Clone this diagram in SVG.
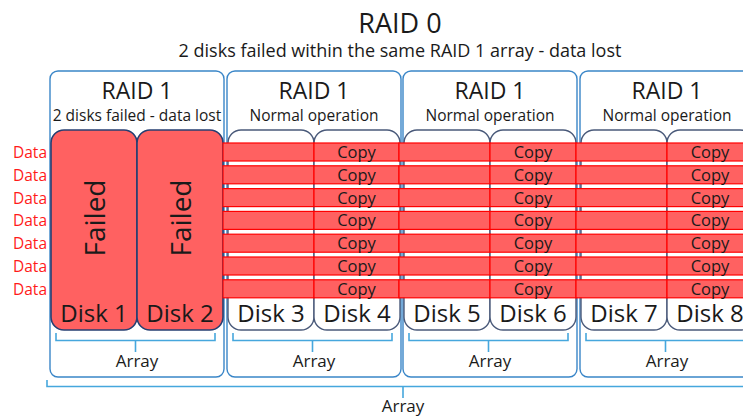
<svg xmlns="http://www.w3.org/2000/svg" width="743" height="417" viewBox="0 0 743 417">
<style>
text{font-family:"Open Sans","Noto Sans","DejaVu Sans",sans-serif;fill:#1a1a1a}
.title{font-size:27px;text-anchor:middle}
.sub{font-size:18px;text-anchor:middle}
.h1{font-size:23px;text-anchor:middle}
.h2{font-size:15.5px;text-anchor:middle}
.disk{font-size:24px;text-anchor:middle}
.copy{font-size:16.5px;text-anchor:middle}
.data{font-size:15.5px;text-anchor:end;fill:#ff1a1a}
.arr{font-size:17px;text-anchor:middle}
.failed{font-size:28px;text-anchor:middle}
.cont{fill:#fff;stroke:#3a86c8;stroke-width:1.4}
.dk{fill:#fff;stroke:#4a5a7a;stroke-width:1.4}
.df{fill:#ff6161;stroke:#263f72;stroke-width:1.6}
.bar{fill:#ff6161;stroke:#ff0000;stroke-width:1.2}
.br{fill:none;stroke:#46a7dd;stroke-width:1.6}
</style>
<text class="title" x="400" y="33">RAID 0</text>
<text class="sub" x="400" y="57">2 disks failed within the same RAID 1 array - data lost</text>

<g id="raid1-a">
<rect class="cont" x="50" y="71" width="174" height="306" rx="8"/>
<text class="h1" x="137" y="99">RAID 1</text>
<text class="h2" x="137" y="121">2 disks failed - data lost</text>
</g>
<g id="raid1-b">
<rect class="cont" x="227" y="71" width="174" height="306" rx="8"/>
<text class="h1" x="314" y="99">RAID 1</text>
<text class="h2" x="314" y="121">Normal operation</text>
</g>
<g id="raid1-c">
<rect class="cont" x="403" y="71" width="174" height="306" rx="8"/>
<text class="h1" x="490" y="99">RAID 1</text>
<text class="h2" x="490" y="121">Normal operation</text>
</g>
<g id="raid1-d">
<rect class="cont" x="580" y="71" width="174" height="306" rx="8"/>
<text class="h1" x="667" y="99">RAID 1</text>
<text class="h2" x="667" y="121">Normal operation</text>
</g>

<g id="disk1"><rect class="df" x="51" y="130" width="86" height="200" rx="13"/></g>
<g id="disk2"><rect class="df" x="137" y="130" width="86" height="200" rx="13"/></g>
<g id="disk3"><rect class="dk" x="228" y="130" width="86" height="200" rx="13"/></g>
<g id="disk4"><rect class="dk" x="314" y="130" width="86" height="200" rx="13"/></g>
<g id="disk5"><rect class="dk" x="404" y="130" width="86" height="200" rx="13"/></g>
<g id="disk6"><rect class="dk" x="490" y="130" width="86" height="200" rx="13"/></g>
<g id="disk7"><rect class="dk" x="581" y="130" width="86" height="200" rx="13"/></g>
<g id="disk8"><rect class="dk" x="667" y="130" width="86" height="200" rx="13"/></g>

<g id="bars">
<defs>
<g id="row">
<rect class="bar" x="223" y="0" width="91" height="18"/>
<rect class="bar" x="314" y="0" width="85" height="18"/>
<rect class="bar" x="399" y="0" width="91" height="18"/>
<rect class="bar" x="490" y="0" width="86" height="18"/>
<rect class="bar" x="576" y="0" width="91" height="18"/>
<rect class="bar" x="667" y="0" width="86" height="18"/>
<text class="copy" x="356.5" y="15">Copy</text>
<text class="copy" x="533" y="15">Copy</text>
<text class="copy" x="710" y="15">Copy</text>
<text class="data" x="47" y="15">Data</text>
</g>
</defs>
<use href="#row" y="143"/>
<use href="#row" y="165.8"/>
<use href="#row" y="188.6"/>
<use href="#row" y="211.4"/>
<use href="#row" y="234.2"/>
<use href="#row" y="257"/>
<use href="#row" y="279.8"/>
</g>

<g id="labels">
<text class="failed" transform="translate(105,218) rotate(-90)">Failed</text>
<text class="failed" transform="translate(191,218) rotate(-90)">Failed</text>
<text class="disk" x="94" y="322">Disk 1</text>
<text class="disk" x="180" y="322">Disk 2</text>
<text class="disk" x="271" y="322">Disk 3</text>
<text class="disk" x="357" y="322">Disk 4</text>
<text class="disk" x="447" y="322">Disk 5</text>
<text class="disk" x="533" y="322">Disk 6</text>
<text class="disk" x="624" y="322">Disk 7</text>
<text class="disk" x="710" y="322">Disk 8</text>
</g>

<g id="connectors">
<path class="br" d="M56,333 V340.5 H215 V333 M135.5,340.5 V352"/>
<path class="br" d="M233,333 V340.5 H392 V333 M312.5,340.5 V352"/>
<path class="br" d="M409,333 V340.5 H568 V333 M488.5,340.5 V352"/>
<path class="br" d="M586,333 V340.5 H745 M665.5,340.5 V352"/>
<path class="br" d="M47,380 V386.5 H750 M403,386.5 V398"/>
</g>
<g id="array-labels">
<text class="arr" x="137" y="367">Array</text>
<text class="arr" x="314" y="367">Array</text>
<text class="arr" x="490" y="367">Array</text>
<text class="arr" x="667" y="367">Array</text>
<text class="arr" x="403" y="412">Array</text>
</g>
</svg>
